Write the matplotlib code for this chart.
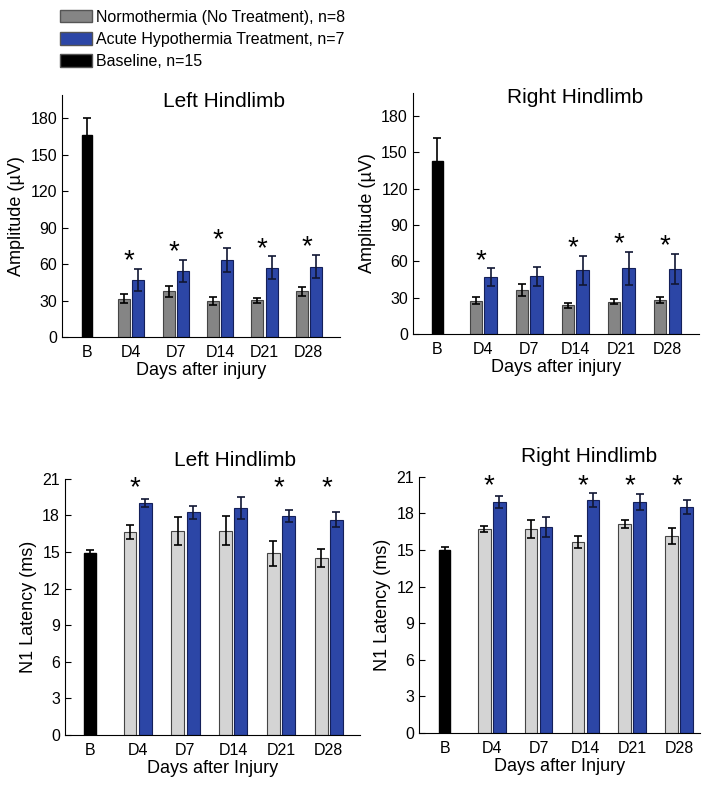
import matplotlib
matplotlib.use("Agg")
import matplotlib.pyplot as plt
from matplotlib.patches import Patch
import numpy as np

plt.rcParams['font.family'] = ['Liberation Sans', 'DejaVu Sans']

# data
days = ["B", "D4", "D7", "D14", "D21", "D28"]

# amplitude (uV)
left_amp_base, left_amp_base_err = 166, 14
left_amp_norm = [31.5, 37.5, 29.3, 30.1, 37.5]
left_amp_norm_err = [3.8, 4.5, 3.3, 2.0, 4.0]
left_amp_hypo = [47, 54.5, 63.3, 57, 58]
left_amp_hypo_err = [9, 9, 10, 9.3, 9.6]
left_amp_sig = [True, True, True, True, True]

right_amp_base, right_amp_base_err = 143, 19
right_amp_norm = [27.5, 36.6, 23.7, 26.7, 28]
right_amp_norm_err = [3, 5, 2.2, 2.2, 2.5]
right_amp_hypo = [46.8, 47.6, 52.6, 54.2, 53.7]
right_amp_hypo_err = [7.5, 8, 12, 13.7, 12.6]
right_amp_sig = [True, False, True, True, True]

# N1 latency (ms)
left_lat_base, left_lat_base_err = 14.9, 0.3
left_lat_norm = [16.65, 16.76, 16.76, 14.9, 14.5]
left_lat_norm_err = [0.6, 1.15, 1.17, 1.04, 0.74]
left_lat_hypo = [19.03, 18.26, 18.62, 17.96, 17.66]
left_lat_hypo_err = [0.33, 0.55, 0.88, 0.5, 0.6]
left_lat_sig = [True, False, False, True, True]

right_lat_base, right_lat_base_err = 15.0, 0.22
right_lat_norm = [16.73, 16.73, 15.67, 17.17, 16.16]
right_lat_norm_err = [0.27, 0.77, 0.5, 0.33, 0.63]
right_lat_hypo = [18.95, 16.9, 19.09, 18.95, 18.54]
right_lat_hypo_err = [0.47, 0.82, 0.57, 0.63, 0.6]
right_lat_sig = [True, False, True, True, True]

blue = '#2c46a6'
blue_edge = '#14205a'
dark_gray = '#858585'
light_gray = '#d4d4d4'

fig = plt.figure(figsize=(7.14, 7.88), dpi=100)


def panel(rect, title, title_xy, base, base_err, norm, norm_err, hypo, hypo_err,
          sig, norm_color, ylim, yticks, ylabel, xlabel, star_mode, xlim):
    ax = fig.add_axes(rect)
    x = np.arange(1, 6)
    w = 0.27
    off = 0.16
    ekw = dict(ecolor='black', elinewidth=1.2, capsize=3, capthick=1.2)
    ax.bar(0, base, width=0.24, color='black', edgecolor='black')
    ax.errorbar(0, base, yerr=base_err, fmt='none', **ekw)
    ax.bar(x - off, norm, width=w, color=norm_color, edgecolor='#444444', linewidth=0.8)
    ax.errorbar(x - off, norm, yerr=norm_err, fmt='none', **ekw)
    ax.bar(x + off, hypo, width=w, color=blue, edgecolor=blue_edge, linewidth=0.8)
    ax.errorbar(x + off, hypo, yerr=hypo_err, fmt='none', ecolor='#111633',
                elinewidth=1.2, capsize=3, capthick=1.2)
    for i in range(5):
        if sig[i]:
            if star_mode == 'top':
                ys = ylim[1] * 0.965
            else:
                ys = hypo[i] + hypo_err[i] + ylim[1] * 0.03
            ax.text(x[i] - 0.05, ys, '*', ha='center', va='center', fontsize=20)
    ax.set_xlim(*xlim)
    ax.set_ylim(*ylim)
    ax.set_yticks(yticks)
    ax.set_xticks(np.arange(0, 6))
    ax.set_xticklabels(days)
    ax.tick_params(axis='y', direction='in', length=4, labelsize=11.5)
    ax.tick_params(axis='x', length=0, labelsize=11.5, pad=6)
    ax.spines['top'].set_visible(False)
    ax.spines['right'].set_visible(False)
    ax.set_ylabel(ylabel, fontsize=13, labelpad=4)
    ax.set_xlabel(xlabel, fontsize=13, labelpad=1)
    ax.text(title_xy[0], title_xy[1], title, transform=ax.transAxes,
            ha='center', va='center', fontsize=15)
    return ax


amp_ticks = np.arange(0, 181, 30)
lat_ticks = np.arange(0, 22, 3)

panel([0.087, 0.5723, 0.389, 0.307], "Left Hindlimb", (0.583, 0.975),
      left_amp_base, left_amp_base_err, left_amp_norm, left_amp_norm_err,
      left_amp_hypo, left_amp_hypo_err, left_amp_sig, dark_gray,
      (0, 199), amp_ticks, "Amplitude (\u00b5V)", "Days after injury", 'above', (-0.56, 5.7))

panel([0.578, 0.5761, 0.4006, 0.306], "Right Hindlimb", (0.566, 0.979),
      right_amp_base, right_amp_base_err, right_amp_norm, right_amp_norm_err,
      right_amp_hypo, right_amp_hypo_err, right_amp_sig, dark_gray,
      (0, 199), amp_ticks, "Amplitude (\u00b5V)", "Days after injury", 'above', (-0.53, 5.68))

panel([0.091, 0.0673, 0.413, 0.325], "Left Hindlimb", (0.576, 1.07),
      left_lat_base, left_lat_base_err, left_lat_norm, left_lat_norm_err,
      left_lat_hypo, left_lat_hypo_err, left_lat_sig, light_gray,
      (0, 21), lat_ticks, "N1 Latency (ms)", "Days after Injury", 'top', (-0.52, 5.65))

panel([0.587, 0.0698, 0.3936, 0.325], "Right Hindlimb", (0.605, 1.078),
      right_lat_base, right_lat_base_err, right_lat_norm, right_lat_norm_err,
      right_lat_hypo, right_lat_hypo_err, right_lat_sig, light_gray,
      (0, 21), lat_ticks, "N1 Latency (ms)", "Days after Injury", 'top', (-0.55, 5.45))

handles = [
    Patch(facecolor=dark_gray, edgecolor='#555555', label="Normothermia (No Treatment), n=8"),
    Patch(facecolor=blue, edgecolor='#555555', label="Acute Hypothermia Treatment, n=7"),
    Patch(facecolor='black', edgecolor='#555555', label="Baseline, n=15"),
]
fig.legend(handles=handles, loc='upper left', bbox_to_anchor=(0.07, 1.0),
           frameon=False, fontsize=11.5, handlelength=2.0, handleheight=0.85,
           handletextpad=0.25, labelspacing=0.45, borderaxespad=0.2)

fig.savefig("out.png", dpi=100)
